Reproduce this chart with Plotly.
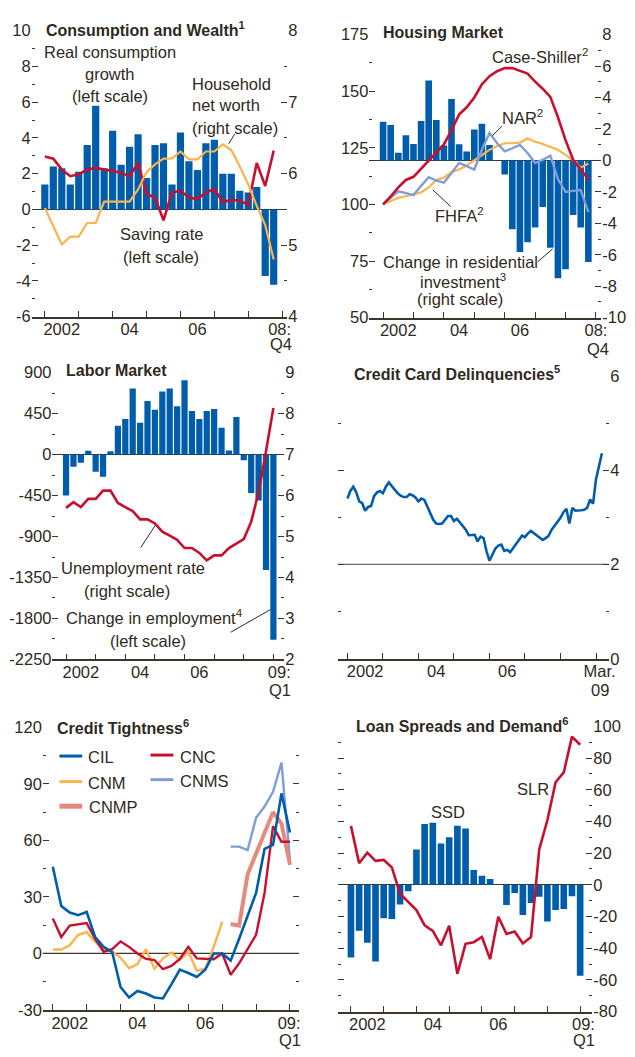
import plotly.graph_objects as go

# ---------------------------------------------------------------- data
# Quarter index: 0 = 2002:Q1
q_2008 = list(range(28))          # 2002:Q1 .. 2008:Q4
q_2009 = list(range(29))          # 2002:Q1 .. 2009:Q1
m_2009 = list(range(87))          # Jan 2002 .. Mar 2009 (monthly)

# Consumption and Wealth
cons_growth = [1.4, 2.4, 2.3, 1.4, 2.1, 3.6, 5.8, 2.3, 4.4, 2.5, 3.5, 4.2, 1.75, 3.6,
               3.7, 1.4, 4.3, 2.7, 2.2, 3.7, 3.9, 2.0, 2.0, 1.04, 0.95, 1.26, -3.73, -4.22]
saving_rate = [2.96, 2.84, 2.23, 1.86, 1.96, 2.23, 2.32, 2.23, 2.14, 2.05, 1.86, 2.6, 0.86, 0.67,
               -0.61, 0.95, 1.04, 0.67, 0.58, 0.95, 1.13, 0.40, 0.54, 0.49, 0.25, 2.6, 1.31, 3.29]
net_worth = [5.52, 5.26, 5.01, 5.12, 5.12, 5.31, 5.31, 5.61, 5.61, 5.61, 5.61, 5.78, 6.02, 6.13,
             6.21, 6.21, 6.31, 6.20, 6.20, 6.31, 6.31, 6.41, 6.33, 6.10, 5.85, 5.55, 5.28, 4.80]

# Housing Market
res_invest = [2.46, 2.25, 0.48, 1.6, 1.04, 2.5, 5.08, 2.56, 0.94, 3.91, 1.02, 0.56, 1.96, 2.33,
              0.98, 0.0, -0.9, -4.38, -5.83, -5.21, -4.27, -2.96, -5.56, -7.5, -6.92, -3.48, -4.27, -6.46]
case_shiller = [100, 103.5, 107.5, 110.8, 112.2, 115.7, 119.4, 123.1, 126.5, 132.8, 139.7, 142.9,
                147.2, 153.0, 156.6, 158.8, 160.2, 160.2, 159.1, 157.8, 154.2, 151.1, 147.5, 138.5,
                128.4, 119.7, 115.4, 111.1]
nar = [100, 102.9, 105.8, 105.0, 104.1, 108.2, 112.0, 110.5, 109.6, 113.9, 118.3, 116.9, 115.4,
       124.1, 131.5, 127.0, 123.4, 124.8, 126.3, 122.7, 118.3, 119.7, 121.5, 111.2, 105.5, 106.0,
       106.3, 96.6]
fhfa = [100, 101.5, 102.9, 103.6, 104.3, 105.3, 107.5, 110.8, 111.8, 114.3, 115.4, 117.2, 119.5,
        121.9, 124.1, 125.8, 127.0, 127.0, 127.3, 129.1, 127.7, 126.7, 125.5, 124.1, 121.9, 119.5,
        116.2, 118.1]

# Labor Market
emp_change = [-450, -134, -90, 43, -188, -242, 36, 316, 392, 727, 349, 590, 493, 694, 727, 532,
              817, 478, 392, 478, 500, 295, 46, 414, -62, -421, -504, -1268, -2034]
unemp_rate = [5.70, 5.84, 5.72, 5.92, 5.92, 6.12, 6.12, 5.82, 5.72, 5.62, 5.42, 5.42, 5.32, 5.12,
              5.02, 4.92, 4.72, 4.72, 4.60, 4.42, 4.54, 4.54, 4.72, 4.82, 4.94, 5.36, 6.08, 7.08, 8.14]

# Credit Card Delinquencies (monthly)
cc_delinq = [3.40, 3.56, 3.65, 3.53, 3.34, 3.30, 3.14, 3.22, 3.24, 3.45, 3.53, 3.56, 3.51, 3.65,
             3.74, 3.66, 3.57, 3.51, 3.46, 3.43, 3.43, 3.49, 3.47, 3.42, 3.34, 3.40, 3.37, 3.24,
             3.10, 2.95, 2.87, 2.86, 2.87, 2.94, 3.03, 3.03, 2.92, 2.97, 2.89, 2.82, 2.74, 2.62,
             2.62, 2.63, 2.49, 2.59, 2.56, 2.28, 2.08, 2.21, 2.34, 2.40, 2.42, 2.29, 2.31, 2.26,
             2.35, 2.45, 2.53, 2.61, 2.58, 2.66, 2.71, 2.66, 2.62, 2.57, 2.52, 2.56, 2.61, 2.74,
             2.82, 2.92, 2.99, 3.11, 3.18, 2.87, 3.20, 3.14, 3.14, 3.15, 3.16, 3.20, 3.38, 3.29,
             3.81, 4.12, 4.36]

# Credit Tightness
cil = [46, 25.2, 21.7, 20.3, 22, 8.7, 3.5, 0.9, -17.8, -23.4, -19.9, -21.3, -23.4, -23.9, -16.4,
       -8.6, -10.4, -12.5, -8.6, 0, 0, -3.8, 7.8, 20, 32.1, 55.5, 57.6, 85, 64.2]
cnc = [18.6, 8.7, 14.8, 15.3, 16.1, 7.8, 0.9, 2.3, 6.4, 3.5, 0, -2.9, -3.5, -8.3, -6.6, -2.9, 3.5,
       -2.6, -2.9, -3.1, 0, -11.3, -5.2, 2.3, 9.9, 32.1, 67.6, 59.3, 59.3]
cnm = [2.1, 2.1, 4.3, 9.9, 11.3, 6.1, 2.3, 0.9, -2.2, -7.8, -5.7, 2.3, -8.1, -2.6, 0.5, -3.5, 0.9,
       -9.2, -8.1, 3.5, 16.8] + [None] * 8
cnmp = [None] * 21 + [15.6, 14.8, 42, 53, 64, 75, 69, 47]
cnms = [None] * 21 + [56.7, 56.7, 54.9, 72, 78, 85.8, 101.4, 49.4]

# Loan Spreads and Demand
ssd = [-45.9, -29, -36.6, -48.4, -21.1, -21.5, -12.4, -4.1, 22.3, 38.4, 39.1, 26, 30, 37.2, 35.5,
       9.3, 5.8, 3.7, 0, -12.8, -5.2, -19, -11.4, -7.6, -23.2, -15.9, -15.3, -7.2, -57.3]
slr = [37.2, 13.6, 20.3, 15.1, 15.7, 11.0, -5.6, -10.7, -15.9, -25.6, -29, -38.2, -25.8, -56.2,
       -37.2, -36.2, -32.9, -46.9, -20.1, -31, -29.4, -37, -32.9, 22.3, 40.9, 64.7, 70.9, 93.5, 88.4]

# ---------------------------------------------------------------- style
W, H = 635, 1057
FONT = "Liberation Sans, Arial, sans-serif"
INK = "#2f2a21"
AXIS = "#3b352b"
BLUE = "#005dab"
RED = "#c8102e"
ORANGE = "#fbb44c"
LBLUE = "#7f9dd8"
SALMON = "#e58a7c"
FS = 16.5


def fx(x):
    return x / W


def fy(y):
    return 1 - y / H


# panel boxes in pixels: (left, right), (top, bottom)
PANELS = {
    1: dict(x=(32, 290), y=(22, 313)),
    2: dict(x=(373, 607), y=(26, 314)),
    3: dict(x=(53, 287), y=(370, 661.7)),
    4: dict(x=(341, 615), y=(373.3, 661)),
    5: dict(x=(43.3, 301.7), y=(730.9, 1018.3)),
    6: dict(x=(341, 598), y=(729.75, 1020)),
}


def fmt(v):
    return str(int(v)) if float(v).is_integer() else str(v)


def y_axis(panel, lo, hi, step, side, anchor, labels=True, overlay=None, zero=False):
    n = round((hi - lo) / step)
    vals = [lo + i * step for i in range(n + 1)]
    mvals = [lo + (i + 0.5) * step for i in range(n)]
    top, bot = PANELS[panel]["y"]
    ax = dict(
        domain=[fy(bot), fy(top)], range=[lo, hi], side=side, anchor=anchor,
        tickmode="array", tickvals=vals, ticktext=[fmt(v) for v in vals],
        showticklabels=labels, ticks="inside", ticklen=6, tickwidth=1.2, tickcolor=AXIS,
        minor=dict(tickmode="array", tickvals=mvals, ticks="inside", ticklen=3,
                   tickwidth=1.2, tickcolor=AXIS),
        showgrid=False, showline=False, fixedrange=True,
        zeroline=zero, zerolinecolor=AXIS, zerolinewidth=1.2,
        tickfont=dict(size=FS, color=INK, family=FONT),
    )
    if overlay:
        ax["overlaying"] = overlay
    return ax


def x_axis(panel, lo, hi, anchor, label_pos, label_text, tick_pos):
    left, right = PANELS[panel]["x"]
    return dict(
        domain=[fx(left), fx(right)], range=[lo, hi], anchor=anchor,
        tickmode="array", tickvals=label_pos, ticktext=label_text, ticks="",
        ticklabelstandoff=-3,
        minor=dict(tickmode="array", tickvals=tick_pos, ticks="inside", ticklen=6,
                   tickwidth=1.2, tickcolor=AXIS),
        showline=True, linecolor=AXIS, linewidth=1.5, showgrid=False, zeroline=False,
        fixedrange=True, tickfont=dict(size=FS, color=INK, family=FONT),
    )


year_ticks = list(range(0, 29, 4))
month_ticks = list(range(0, 85, 12))

fig = go.Figure()

# ---- Consumption and Wealth
fig.add_trace(go.Bar(x=q_2008, y=cons_growth, xaxis="x", yaxis="y", width=0.85,
                     marker=dict(color=BLUE, line=dict(width=0))))
fig.add_trace(go.Scatter(x=q_2008, y=saving_rate, xaxis="x", yaxis="y", mode="lines",
                         line=dict(color=RED, width=2.6)))
fig.add_trace(go.Scatter(x=q_2008, y=net_worth, xaxis="x", yaxis="y7", mode="lines",
                         line=dict(color=ORANGE, width=2.2)))

# ---- Housing Market
fig.add_trace(go.Bar(x=q_2008, y=res_invest, xaxis="x2", yaxis="y2", width=0.87,
                     marker=dict(color=BLUE, line=dict(width=0))))
fig.add_trace(go.Scatter(x=q_2008, y=fhfa, xaxis="x2", yaxis="y8", mode="lines",
                         line=dict(color=ORANGE, width=2.2)))
fig.add_trace(go.Scatter(x=q_2008, y=nar, xaxis="x2", yaxis="y8", mode="lines",
                         line=dict(color=LBLUE, width=2.4)))
fig.add_trace(go.Scatter(x=q_2008, y=case_shiller, xaxis="x2", yaxis="y8", mode="lines",
                         line=dict(color=RED, width=2.6)))

# ---- Labor Market
fig.add_trace(go.Bar(x=q_2009, y=emp_change, xaxis="x3", yaxis="y3", width=0.84,
                     marker=dict(color=BLUE, line=dict(width=0))))
fig.add_trace(go.Scatter(x=q_2009, y=unemp_rate, xaxis="x3", yaxis="y9", mode="lines",
                         line=dict(color=RED, width=2.6)))

# ---- Credit Card Delinquencies (tick-only left axis, same scale as the right)
fig.add_trace(go.Scatter(x=m_2009, y=cc_delinq, xaxis="x4", yaxis="y10", mode="lines",
                         line=dict(color=BLUE, width=2.6)))

# ---- Credit Tightness (tick-only right axis, same scale as the left)
for series, color, width in [(cnm, ORANGE, 2.4), (cnms, LBLUE, 2.4), (cnmp, SALMON, 4.0),
                             (cnc, RED, 2.4), (cil, BLUE, 2.6)]:
    fig.add_trace(go.Scatter(x=q_2009, y=series, xaxis="x5", yaxis="y11", mode="lines",
                             line=dict(color=color, width=width)))

# ---- Loan Spreads and Demand
fig.add_trace(go.Bar(x=q_2009, y=ssd, xaxis="x6", yaxis="y6", width=0.81,
                     marker=dict(color=BLUE, line=dict(width=0))))
fig.add_trace(go.Scatter(x=q_2009, y=slr, xaxis="x6", yaxis="y12", mode="lines",
                         line=dict(color=RED, width=2.6)))

# ---------------------------------------------------------------- axes
layout_axes = dict(
    xaxis=x_axis(1, -1.55, 28.6, "y", [2, 10, 18, 27.7], ["2002", "04", "06", "08:"], year_ticks),
    xaxis2=x_axis(2, -1.79, 28.7, "y2", [2, 10, 18, 28.0], ["2002", "04", "06", "08:"], year_ticks),
    xaxis3=x_axis(3, -1.83, 29.47, "y3", [2, 10, 18, 28.8], ["2002", "04", "06", "09:"], year_ticks),
    xaxis4=x_axis(4, -3.25, 88.45, "y4", [6, 30, 54, 85.2], ["2002", "04", "06", "Mar."], month_ticks),
    xaxis5=x_axis(5, -1.17, 29.05, "y5", [2, 10, 18, 27.9], ["2002", "04", "06", "09:"], year_ticks),
    xaxis6=x_axis(6, -1.61, 29.49, "y6", [2, 10, 18, 28.4], ["2002", "04", "06", "09:"], year_ticks),

    yaxis=y_axis(1, -6, 10, 2, "left", "x", zero=True),
    yaxis7=y_axis(1, 4, 8, 1, "right", "x", overlay="y"),
    yaxis2=y_axis(2, -10, 8, 2, "right", "x2", zero=True),
    yaxis8=y_axis(2, 50, 175, 25, "left", "x2", overlay="y2"),
    yaxis3=y_axis(3, -2250, 900, 450, "left", "x3", zero=True),
    yaxis9=y_axis(3, 2, 9, 1, "right", "x3", overlay="y3"),
    yaxis4=y_axis(4, 0, 6, 2, "right", "x4"),
    yaxis10=y_axis(4, 0, 6, 2, "left", "x4", labels=False, overlay="y4"),
    yaxis5=y_axis(5, -30, 120, 30, "left", "x5"),
    yaxis11=y_axis(5, -30, 120, 30, "right", "x5", labels=False, overlay="y5"),
    yaxis6=y_axis(6, -80, 100, 20, "right", "x6", zero=True),
    yaxis12=y_axis(6, -80, 100, 20, "left", "x6", labels=False, overlay="y6"),
)

# ---------------------------------------------------------------- text
annotations = []


def text(x, y, s, anchor="left", size=FS):
    annotations.append(dict(x=fx(x), y=fy(y), xref="paper", yref="paper", text=s,
                            showarrow=False, xanchor=anchor, yanchor="middle",
                            font=dict(size=size, color=INK, family=FONT)))


def title(x, y, s):
    text(x, y, "<b>" + s + "</b>", size=16)


title(44, 20, "Consumption and Wealth<sup>1</sup>")
text(111, 44, "Real consumption", "center")
text(111, 66, "growth", "center")
text(111, 89, "(left scale)", "center")
text(192, 76, "Household")
text(192, 98, "net worth")
text(192, 121, "(right scale)")
text(163, 229, "Saving rate", "center")
text(163, 252, "(left scale)", "center")
text(284, 341, "Q4", "center")

title(385, 24, "Housing Market")
text(495, 48, "Case-Shiller<sup>2</sup>")
text(505, 110, "NAR<sup>2</sup>")
text(437, 210, "FHFA<sup>2</sup>")
text(465, 257, "Change in residential", "center")
text(467, 277, "investment<sup>3</sup>", "center")
text(464, 295, "(right scale)", "center")
text(604, 346, "Q4", "center")

title(65, 368, "Labor Market")
text(134, 569, "Unemployment rate", "center")
text(128, 592, "(right scale)", "center")
text(65, 619, "Change in employment<sup>4</sup>")
text(149, 643, "(left scale)", "center")
text(283, 693, "Q1", "center")

title(355, 370, "Credit Card Delinquencies<sup>5</sup>")
text(606, 693, "09", "center")

title(56, 730, "Credit Tightness<sup>6</sup>")
text(87, 761, "CIL")
text(87, 787, "CNM")
text(88, 812, "CNMP")
text(180, 761, "CNC")
text(180, 785, "CNMS")
text(293, 1049, "Q1", "center")

title(357, 728, "Loan Spreads and Demand<sup>6</sup>")
text(452, 817, "SSD", "center")
text(538, 794, "SLR", "center")
text(590, 1049, "Q1", "center")

# ---------------------------------------------------------------- leader lines, legend keys
shapes = []


def seg(x0, y0, x1, y1, color=INK, width=1):
    shapes.append(dict(type="line", xref="paper", yref="paper", x0=fx(x0), y0=fy(y0),
                       x1=fx(x1), y1=fy(y1), line=dict(color=color, width=width)))


seg(237, 127, 231, 137)          # household net worth
seg(507, 119, 497, 129)          # NAR
seg(455, 201, 437, 184)          # FHFA
seg(543, 257, 558, 244)          # residential investment
seg(142, 548, 157, 525)          # unemployment rate
seg(233, 634, 273, 611)          # change in employment

seg(60, 760, 83, 760, BLUE, 3)
seg(60, 786, 83, 786, ORANGE, 3)
seg(60, 811, 83, 811, SALMON, 5)
seg(152, 759, 175, 759, RED, 3)
seg(152, 784, 175, 784, LBLUE, 3)

# reference lines: 2 percent in the delinquency panel, zero in the tightness panel
shapes.append(dict(type="line", xref="x4 domain", yref="y4", x0=0, x1=1, y0=2, y1=2,
                   line=dict(color="#6f6a5f", width=1.2), layer="below"))
shapes.append(dict(type="line", xref="x5 domain", yref="y5", x0=0, x1=1, y0=0, y1=0,
                   line=dict(color=AXIS, width=1.2), layer="below"))

fig.update_layout(
    width=W, height=H, autosize=False,
    margin=dict(l=0, r=0, t=0, b=0),
    paper_bgcolor="white", plot_bgcolor="white",
    showlegend=False,
    font=dict(family=FONT, color=INK, size=FS),
    annotations=annotations, shapes=shapes,
    **layout_axes,
)

fig.write_html("out.html")
